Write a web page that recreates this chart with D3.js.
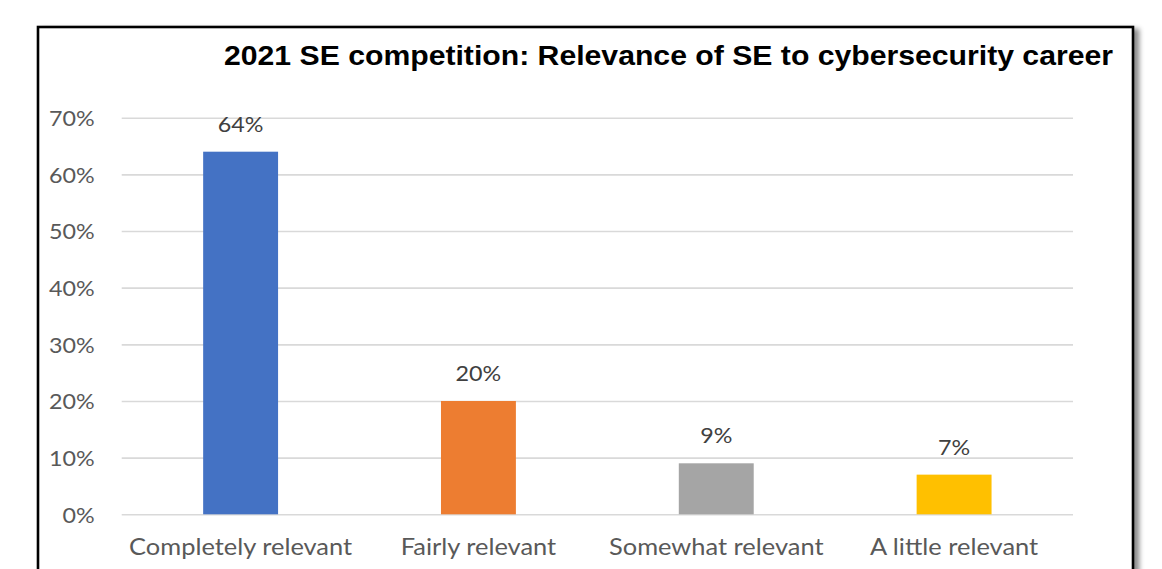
<!DOCTYPE html>
<html>
<head>
<meta charset="utf-8">
<script src="https://cdn.jsdelivr.net/npm/d3@7"></script>
<style>
  body { margin: 0; background: #fff; }
  svg { display: block; }
  .tick text { font-family: Lato, "Open Sans", sans-serif; }
</style>
</head>
<body>
<svg width="1162" height="569"></svg>
<script>
// chart data
var categories = ["Completely relevant", "Fairly relevant", "Somewhat relevant", "A little relevant"];
var shares = [0.64, 0.20, 0.09, 0.07];
var barColors = ["#4472C4", "#ED7D31", "#A5A5A5", "#FFC000"];
var yTicks = [0, 0.1, 0.2, 0.3, 0.4, 0.5, 0.6, 0.7];
var title = "2021 SE competition: Relevance of SE to cybersecurity career";

var svg = d3.select("svg"),
    width = +svg.attr("width"),
    height = +svg.attr("height");

// plot area (the source picture is a bit stretched sideways, hence stretchX)
var plotLeft = 121.7, plotRight = 1073, plotTop = 117.7, plotBottom = 514.3;
var stretchX = 1.06;
var pct = d3.format(".0%");

// frame with a soft shadow on the right
var defs = svg.append("defs");
defs.append("filter")
    .attr("id", "shadow")
    .attr("x", "-5%").attr("y", "-5%").attr("width", "110%").attr("height", "110%")
  .append("feDropShadow")
    .attr("dx", 5).attr("dy", 3)
    .attr("stdDeviation", 2.5)
    .attr("flood-color", "#000")
    .attr("flood-opacity", 0.45);

svg.append("rect")
    .attr("x", 38).attr("y", 27)
    .attr("width", 1095).attr("height", 600)
    .attr("fill", "#fff")
    .attr("stroke", "#000")
    .attr("stroke-width", 2.6)
    .attr("filter", "url(#shadow)");

var x = d3.scaleBand()
    .domain(categories)
    .range([plotLeft, plotRight])
    .paddingInner(0.685)
    .paddingOuter(0.3425);

var y = d3.scaleLinear()
    .domain([0, 0.7])
    .range([plotBottom, plotTop]);

// y axis with gridlines
var yAxis = svg.append("g")
    .attr("transform", "translate(" + plotLeft + ",0)")
    .call(d3.axisLeft(y)
        .tickValues(yTicks)
        .tickSize(-(plotRight - plotLeft))
        .tickPadding(27)
        .tickFormat(pct));
yAxis.select(".domain").remove();
yAxis.selectAll(".tick line")
    .attr("stroke", "#d9d9d9")
    .attr("stroke-width", 1.6);
yAxis.selectAll(".tick text")
    .attr("fill", "#595959")
    .attr("font-size", 22)
    .attr("x", 0)
    .attr("dy", "0.36em")
    .attr("transform", "translate(-27,0) scale(" + stretchX + ",1)");

// bars
svg.append("g").selectAll("rect")
    .data(shares)
  .enter().append("rect")
    .attr("x", function(d, i) { return x(categories[i]); })
    .attr("y", function(d) { return y(d); })
    .attr("width", x.bandwidth())
    .attr("height", function(d) { return y(0) - y(d); })
    .attr("fill", function(d, i) { return barColors[i]; });

// value labels
svg.append("g").selectAll("text")
    .data(shares)
  .enter().append("text")
    .attr("transform", function(d, i) {
      return "translate(" + (x(categories[i]) + x.bandwidth() / 2) + "," + (y(d) - 20) + ") scale(" + stretchX + ",1)";
    })
    .attr("text-anchor", "middle")
    .attr("font-family", "Lato, 'Open Sans', sans-serif")
    .attr("font-size", 22)
    .attr("fill", "#404040")
    .text(function(d) { return pct(d); });

// category labels
svg.append("g").selectAll("text")
    .data(categories)
  .enter().append("text")
    .attr("transform", function(d) {
      return "translate(" + (x(d) + x.bandwidth() / 2) + ",555) scale(" + stretchX + ",1)";
    })
    .attr("text-anchor", "middle")
    .attr("font-family", "Lato, 'Open Sans', sans-serif")
    .attr("font-size", 24)
    .attr("fill", "#595959")
    .text(function(d) { return d; });

// title
svg.append("text")
    .attr("x", 224)
    .attr("y", 65)
    .attr("textLength", 889)
    .attr("lengthAdjust", "spacingAndGlyphs")
    .attr("font-family", "'Liberation Sans', Arial, sans-serif")
    .attr("font-weight", "bold")
    .attr("font-size", 27)
    .attr("fill", "#000")
    .text(title);
</script>
</body>
</html>
